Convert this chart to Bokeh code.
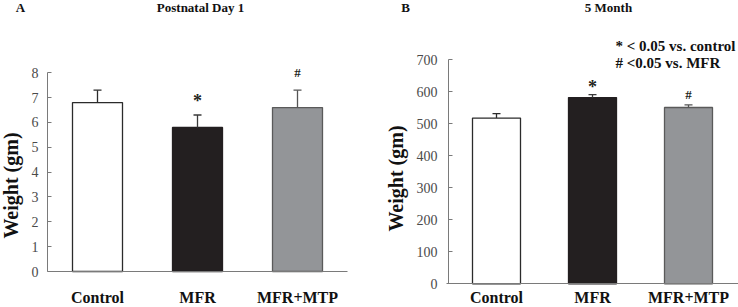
import math
from bokeh.plotting import figure
from bokeh.models import (Range1d, ColumnDataSource, Whisker, TeeHead, Label, FixedTicker)
from bokeh.layouts import row
from bokeh.core.properties import value
from bokeh.embed import file_html
from bokeh.resources import INLINE

categories = ["Control", "MFR", "MFR+MTP"]

# Panel A: Postnatal Day 1
day1_mean = [6.8, 5.8, 6.6]
day1_se = [0.5, 0.5, 0.7]
day1_ticks = [0, 1, 2, 3, 4, 5, 6, 7, 8]

# Panel B: 5 Month
month5_mean = [518, 582, 551]
month5_se = [14, 9, 8]
month5_ticks = [0, 100, 200, 300, 400, 500, 600, 700]

marks = ["", "*", "#"]

fill_colors = ["#ffffff", "#231f20", "#939598"]
line_colors = ["#2b2b2b", "#231f20", "#5a5a5a"]
err_colors = ["#2b2b2b", "#3a3a3a", "#555555"]

SERIF = "Liberation Serif"
W, H = 369, 307


def panel(mean, se, ticks, ymax, axis_x, axis_y, px_x, px_y, xbounds,
          ystandoff, xstandoff, mark_off):
    # axis_x / axis_y: pixel position of the axes origin inside this figure
    # px_x / px_y: pixels per data unit
    xr = Range1d(-axis_x / px_x, (W - axis_x) / px_x)
    yr = Range1d(-(H - axis_y) / px_y, axis_y / px_y)
    p = figure(width=W, height=H, x_range=xr, y_range=yr, output_backend="svg",
               toolbar_location=None, title_location=None,
               min_border_left=0, min_border_right=0, min_border_top=0, min_border_bottom=0)
    try:
        p.frame_align = False
    except Exception:
        pass
    p.outline_line_color = None
    p.grid.grid_line_color = None
    p.background_fill_color = "white"
    p.border_fill_color = "white"

    pos = [i + 0.5 for i in range(len(categories))]
    src = ColumnDataSource(dict(x=pos, top=mean, fill=fill_colors, line=line_colors))
    p.vbar(x="x", top="top", width=0.5, source=src, fill_color="fill",
           line_color="line", line_width=1.3)
    for i in range(len(categories)):
        s1 = ColumnDataSource(dict(base=[pos[i]], lower=[mean[i]], upper=[mean[i] + se[i]]))
        w = Whisker(base="base", lower="lower", upper="upper", source=s1,
                    line_color=err_colors[i], line_width=1.3,
                    upper_head=TeeHead(size=8, line_color=err_colors[i], line_width=1.3),
                    lower_head=None, level="glyph")
        p.add_layout(w)

    # significance marks
    mx, my, mt, ms = [], [], [], []
    for i, m in enumerate(marks):
        if m:
            mx.append(pos[i])
            my.append(mean[i] + se[i] + mark_off[m])
            mt.append(m)
            ms.append("18px" if m == "*" else "13px")
    msrc = ColumnDataSource(dict(x=mx, y=my, t=mt, s=ms))
    p.text(x="x", y="y", text="t", source=msrc, text_align="center", text_baseline="middle",
           text_font=value(SERIF), text_font_style="bold", text_font_size="s",
           text_color="#231f20")

    ax = p.yaxis[0]
    ax.fixed_location = 0
    ax.ticker = FixedTicker(ticks=ticks)
    ax.bounds = (0, ymax)
    ax.major_tick_in = 4
    ax.major_tick_out = 0
    ax.minor_tick_line_color = None
    ax.axis_line_color = "#7a7a7a"
    ax.major_tick_line_color = "#7a7a7a"
    ax.major_label_text_font = SERIF
    ax.major_label_text_font_size = "14px"
    ax.major_label_text_color = "#4a4a4a"
    ax.major_label_standoff = ystandoff

    xa = p.xaxis[0]
    xa.fixed_location = 0
    xa.ticker = FixedTicker(ticks=pos)
    xa.major_label_overrides = {pos[i]: categories[i] for i in range(len(categories))}
    xa.bounds = xbounds
    xa.axis_line_color = "#7a7a7a"
    xa.major_tick_line_color = None
    xa.major_tick_in = 0
    xa.major_tick_out = 0
    xa.minor_tick_line_color = None
    xa.major_label_text_font = SERIF
    xa.major_label_text_font_size = "16px"
    xa.major_label_text_font_style = "bold"
    xa.major_label_text_color = "#111111"
    xa.major_label_standoff = xstandoff

    def lab(text, x, y, size, angle=0.0, align="center", baseline="middle"):
        p.add_layout(Label(x=x, y=y, x_units="canvas", y_units="canvas",
                           text=text, text_font=SERIF, text_font_style="bold",
                           text_font_size=size, text_align=align, text_baseline=baseline,
                           angle=angle, text_color="#111111", level="overlay"))

    return p, lab


pA, labA = panel(day1_mean, day1_se, day1_ticks, 8, 47, 271, 100, 24.84, (0, 3),
                 9, 17, {"*": 0.55, "#": 0.7})
labA("Postnatal Day 1", 200, 7, "13px")
labA("A", 20, 7, "13px")
labA("Weight (gm)", 10.5, 185, "20px", angle=math.pi / 2)

pB, labB = panel(month5_mean, month5_se, month5_ticks, 700, 79, 283.3, 96, 0.32, (-0.02, 3.05),
                 11, 5, {"*": 24, "#": 32})
labB("5 Month", 239, 7, "13px")
labB("B", 36, 7, "13px")
labB("Weight (gm)", 26, 178, "20px", angle=math.pi / 2)
labB("* < 0.05 vs. control", 246, 45, "15px", align="left")
labB("# <0.05 vs. MFR", 246, 62, "15px", align="left")

layout = row(pA, pB)
open("out.html", "w").write(file_html(layout, INLINE))
